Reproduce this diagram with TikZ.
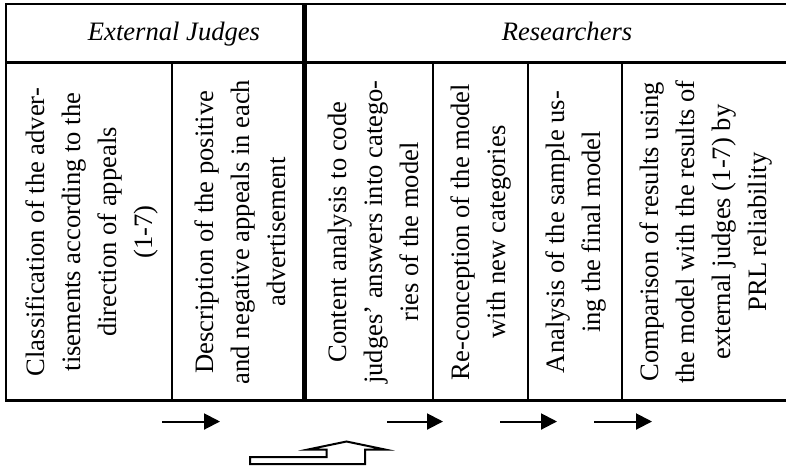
\documentclass[tikz,border=0pt]{standalone}
\usepackage{fontspec}
\setmainfont{Liberation Serif}
\usetikzlibrary{arrows.meta}

\tikzset{
  rule/.style={line width=1.2pt},
  divider/.style={line width=2.6pt},
  head/.style={font=\fontsize{13.3}{16}\selectfont\itshape, anchor=base, inner sep=0pt},
  coltext/.style={rotate=90, align=center, inner sep=0pt,
                  font=\fontsize{13.3}{18}\selectfont},
  flow/.style={line width=1pt, -{Triangle[length=8pt,width=8pt]}},
  hollow/.style={line width=1pt, line join=miter}
}

\begin{document}
\begin{tikzpicture}[x={(0.5pt,0)}, y={(0,-0.5pt)}]
  \useasboundingbox (0,0) rectangle (786,468);

  % table frame, open on the right
  \draw[rule] (786,4) -- (6,4) -- (6,400.5) -- (786,400.5);
  \draw[rule] (6,62.5) -- (786,62.5);
  % column rules
  \foreach \cx in {172,433,528,622}
    \draw[rule] (\cx,62.5) -- (\cx,400.5);
  % heavy rule between the two groups
  \draw[divider] (304.5,4) -- (304.5,400.5);

  % group headings
  \node[head] (hdrJ) at (174,40) {External Judges};
  \node[head] (hdrR) at (567,40) {Researchers};

  % step descriptions, set bottom-to-top
  \node[coltext] (c1) at (92,232)
    {Classification of the adver-\\tisements according to the\\direction of appeals\\(1-7)};
  \node[coltext] (c2) at (240,232)
    {Description of the positive\\and negative appeals in each\\advertisement};
  \node[coltext] (c3) at (373,232)
    {Content analysis to code\\judges’ answers into catego-\\ries of the model};
  \node[coltext] (c4) at (481,232)
    {Re-conception of the model\\with new categories};
  \node[coltext] (c5) at (576,232)
    {Analysis of the sample us-\\ing the final model};
  \node[coltext] (c6) at (706,232)
    {Comparison of results using\\the model with the results of\\external judges (1-7) by\\PRL reliability};

  % sequence arrows under the table
  \coordinate (a1s) at (162,421.5);  \coordinate (a1e) at (220,421.5);
  \coordinate (a2s) at (387,421.5);  \coordinate (a2e) at (443,421.5);
  \coordinate (a3s) at (500,421.5);  \coordinate (a3e) at (557,421.5);
  \coordinate (a4s) at (594,421.5);  \coordinate (a4e) at (652,421.5);
  \draw[flow] (a1s) -- (a1e);
  \draw[flow] (a2s) -- (a2e);
  \draw[flow] (a3s) -- (a3e);
  \draw[flow] (a4s) -- (a4e);

  % hollow bent arrow pointing up
  \draw[hollow] (250,457) -- (250,464) -- (365,464) -- (365,449.5)
    -- (385,449.5) -- (346.5,441.5) -- (308,449.5) -- (326.5,449.5)
    -- (326.5,457) -- cycle;
\end{tikzpicture}
\end{document}
